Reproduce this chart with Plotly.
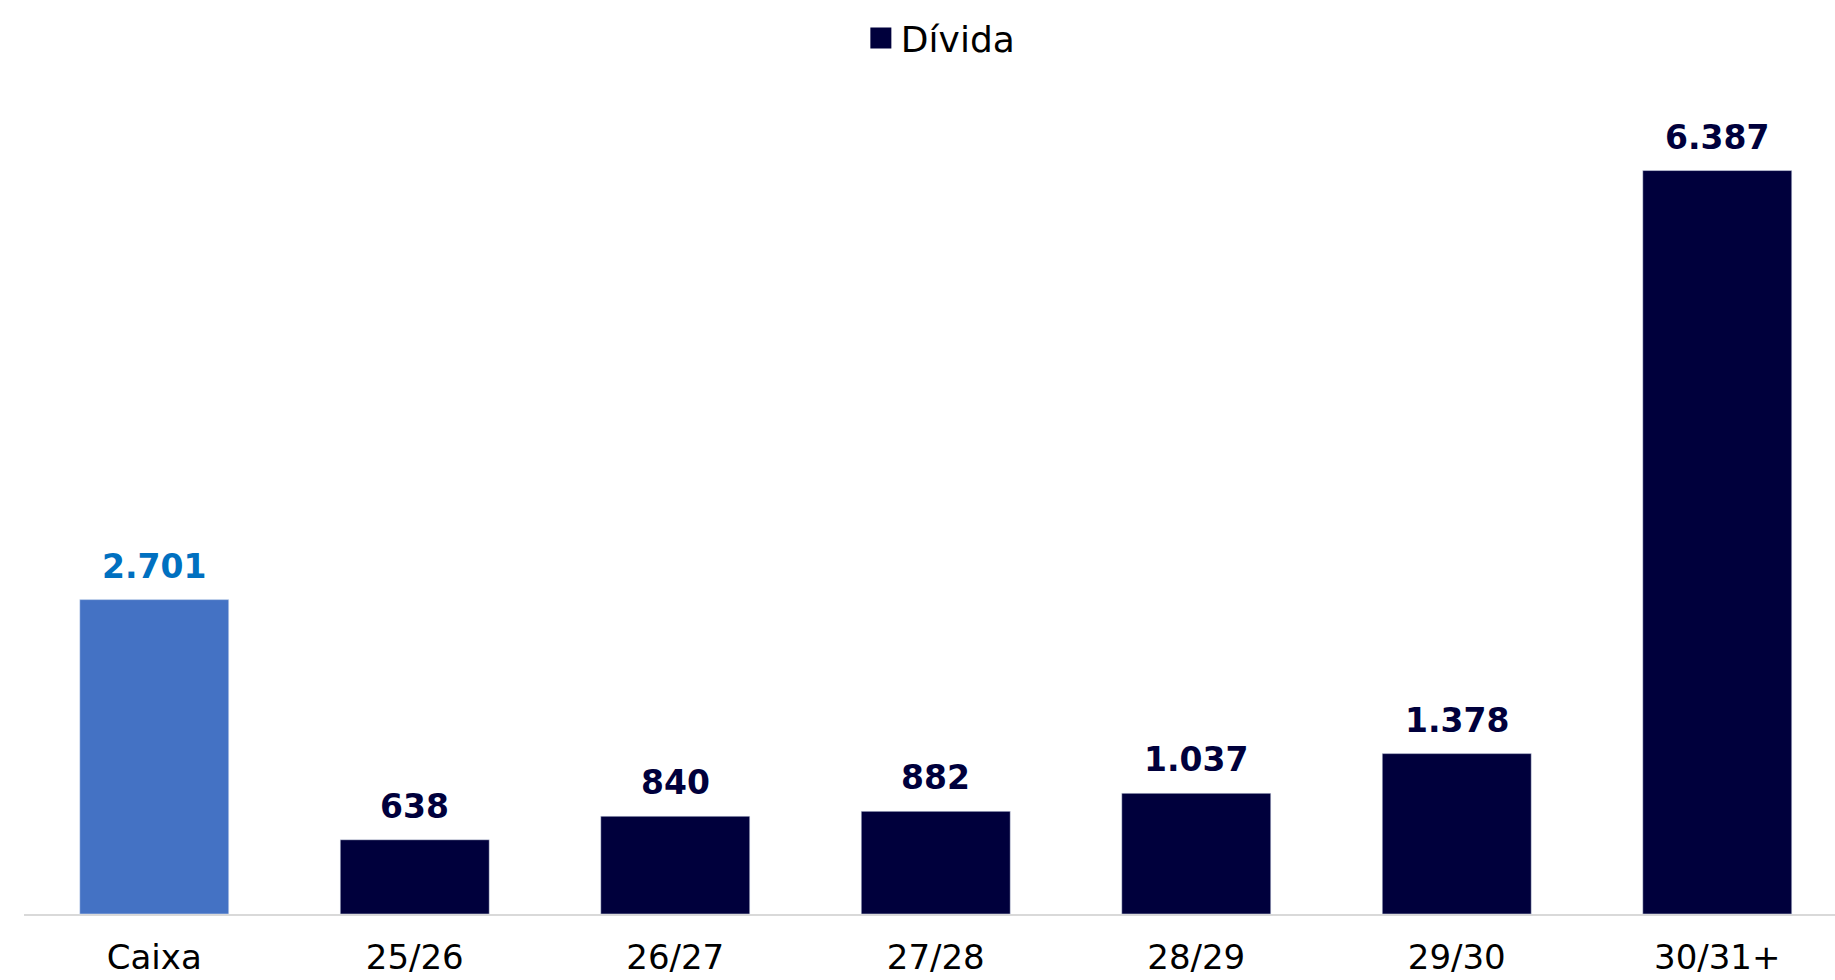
import plotly.graph_objects as go

# Cash position and debt maturity schedule
categories = ["Caixa", "25/26", "26/27", "27/28", "28/29", "29/30", "30/31+"]
caixa_values = [2701]
divida_categories = ["25/26", "26/27", "27/28", "28/29", "29/30", "30/31+"]
divida_values = [638, 840, 882, 1037, 1378, 6387]

CAIXA_COLOR = "#4472C4"
CAIXA_LABEL = "#0070C0"
DIVIDA_COLOR = "#00003C"
FONT = "DejaVu Sans"


def fmt(v):
    return f"{v:,}".replace(",", ".")


fig = go.Figure()
fig.add_trace(go.Bar(
    x=categories[:1], y=caixa_values, marker_color=CAIXA_COLOR,
    showlegend=False, name="Caixa",
))
fig.add_trace(go.Bar(
    x=divida_categories, y=divida_values, marker_color=DIVIDA_COLOR,
    showlegend=False, name="Dívida",
))
# legend entry with a larger square swatch
fig.add_trace(go.Scatter(
    x=[None], y=[None], mode="markers", name="Dívida",
    marker=dict(symbol="square", size=16, color=DIVIDA_COLOR,
                line=dict(color=DIVIDA_COLOR, width=5)),
))

annotations = []
for c, v in zip(categories[:1], caixa_values):
    annotations.append(dict(x=c, y=v, text=f"<b>{fmt(v)}</b>", showarrow=False,
                            yanchor="bottom", yshift=12,
                            font=dict(family=FONT, size=33, color=CAIXA_LABEL)))
for c, v in zip(divida_categories, divida_values):
    annotations.append(dict(x=c, y=v, text=f"<b>{fmt(v)}</b>", showarrow=False,
                            yanchor="bottom", yshift=12,
                            font=dict(family=FONT, size=33, color=DIVIDA_COLOR)))

fig.update_layout(
    width=1835, height=980,
    margin=dict(l=24, r=0, t=80, b=66),
    paper_bgcolor="white", plot_bgcolor="white",
    barmode="overlay", bargap=0.428,
    font=dict(family=FONT, size=35, color="#000000"),
    annotations=annotations,
    legend=dict(orientation="h", x=0.506, xanchor="center",
                y=0.961, yref="container", yanchor="middle",
                font=dict(family=FONT, size=36, color="#000000"),
                itemsizing="trace"),
    xaxis=dict(categoryorder="array", categoryarray=categories,
               range=[-0.5, 6.452], showline=True, linecolor="#D9D9D9",
               linewidth=2, ticks="", showgrid=False, ticklabelstandoff=12,
               automargin=False,
               tickfont=dict(family=FONT, size=34, color="#000000")),
    yaxis=dict(range=[0, 7165], visible=False, showgrid=False, zeroline=False,
               automargin=False),
)

fig.write_html("out.html")
